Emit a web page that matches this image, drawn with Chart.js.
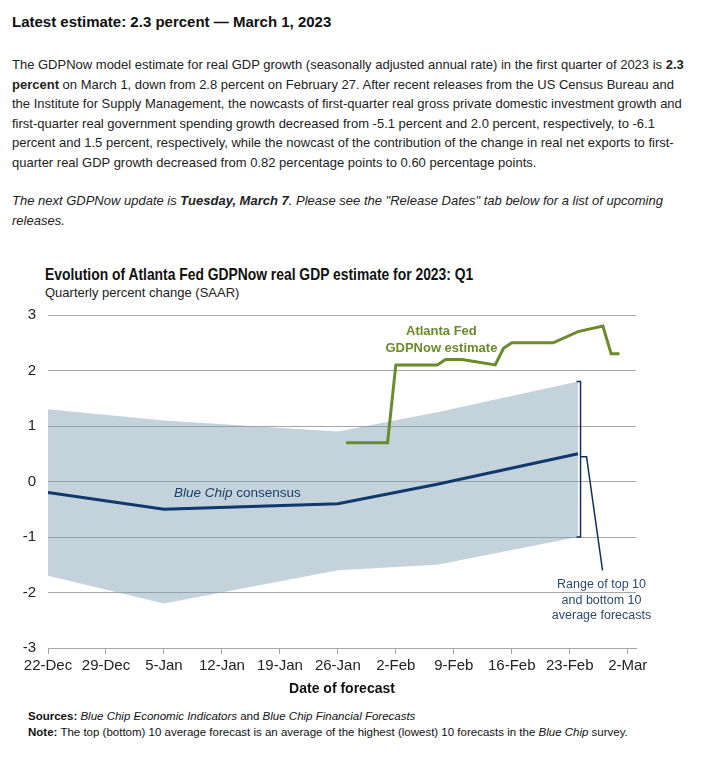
<!DOCTYPE html>
<html>
<head>
    <title>GDPNow</title>
    <style>
        body {
            margin: 0;
            background: #ffffff;
            font-family: 'Liberation Sans', Arial, sans-serif;
            color: #222;
            width: 710px;
            height: 757px;
            position: relative;
            overflow: hidden;
        }
        .abs { position: absolute; white-space: nowrap; }
        #headline {
            left: 12px; top: 13px;
            font-size: 15px; font-weight: bold; color: #111;
        }
        #para {
            left: 12px; top: 55px;
            font-size: 13px; line-height: 19.5px;
        }
        #next {
            left: 12px; top: 191px;
            font-size: 13px; line-height: 19.5px; font-style: italic;
        }
        #chart-title {
            left: 45px; top: 265px;
            font-size: 16.5px; font-weight: bold; color: #111;
            transform: scaleX(0.84);
            transform-origin: left center;
        }
        #chart-sub {
            left: 45px; top: 285px;
            font-size: 13px; color: #222;
        }
        #chart-box {
            position: absolute; left: 0; top: 294px;
            width: 710px; height: 406px;
        }
        .foot {
            left: 28px; font-size: 11.5px; color: #111;
        }
    </style>
    <script src="https://cdn.jsdelivr.net/npm/chart.js"></script>
</head>
<body>
    <div id="headline" class="abs">Latest estimate: 2.3 percent — March 1, 2023</div>
    <div id="para" class="abs">The GDPNow model estimate for real GDP growth (seasonally adjusted annual rate) in the first quarter of 2023 is <b>2.3</b><br><b>percent</b> on March 1, down from 2.8 percent on February 27. After recent releases from the US Census Bureau and<br>the Institute for Supply Management, the nowcasts of first-quarter real gross private domestic investment growth and<br>first-quarter real government spending growth decreased from -5.1 percent and 2.0 percent, respectively, to -6.1<br>percent and 1.5 percent, respectively, while the nowcast of the contribution of the change in real net exports to first-<br>quarter real GDP growth decreased from 0.82 percentage points to 0.60 percentage points.</div>
    <div id="next" class="abs">The next GDPNow update is <b>Tuesday, March 7</b>. Please see the "Release Dates" tab below for a list of upcoming<br>releases.</div>
    <div id="chart-title" class="abs">Evolution of Atlanta Fed GDPNow real GDP estimate for 2023: Q1</div>
    <div id="chart-sub" class="abs">Quarterly percent change (SAAR)</div>
    <div id="chart-box"><canvas id="gdpChart"></canvas></div>
    <div class="abs foot" style="top:710px"><b>Sources:</b> <i>Blue Chip Economic Indicators</i> and <i>Blue Chip Financial Forecasts</i></div>
    <div class="abs foot" style="top:726px"><b>Note:</b> The top (bottom) 10 average forecast is an average of the highest (lowest) 10 forecasts in the <i>Blue Chip</i> survey.</div>

    <script>
        // days counted from 22-Dec-2022
        const tickDays = [0, 7, 14, 21, 28, 35, 42, 49, 56, 63, 70];
        const tickLabels = ['22-Dec', '29-Dec', '5-Jan', '12-Jan', '19-Jan', '26-Jan', '2-Feb', '9-Feb', '16-Feb', '23-Feb', '2-Mar'];

        const gdpNowDays = [36, 41, 42, 47, 48, 50, 54, 55, 56, 61, 64, 67, 68, 69];
        const gdpNowValues = [0.7, 0.7, 2.1, 2.1, 2.2, 2.2, 2.1, 2.4, 2.5, 2.5, 2.7, 2.8, 2.3, 2.3];

        const blueChipDays = [0, 14, 35, 47, 64];
        const blueChipConsensus = [-0.2, -0.5, -0.4, -0.05, 0.5];
        const blueChipTop10 = [1.3, 1.1, 0.9, 1.25, 1.8];
        const blueChipBottom10 = [-1.7, -2.2, -1.6, -1.5, -1.0];

        const GREEN = '#6b8a2a';
        const NAVY = '#0f3a6b';
        const GRID = '#a6a6a6';
        const FONT = "'Liberation Sans', Arial, sans-serif";

        function pts(days, vals) {
            return days.map((d, i) => ({ x: d, y: vals[i] }));
        }

        // bracket, leader line and the text labels inside the plot
        const annotations = {
            id: 'annotations',
            afterDatasetsDraw(chart) {
                const ctx = chart.ctx;
                const xs = chart.scales.x, ys = chart.scales.y;
                const last = blueChipDays.length - 1;
                const bx = xs.getPixelForValue(blueChipDays[last]) + 2.5;
                const top = ys.getPixelForValue(blueChipTop10[last]);
                const bot = ys.getPixelForValue(blueChipBottom10[last]);
                const mid = ys.getPixelForValue(blueChipConsensus[last]) + 3;

                ctx.save();
                ctx.strokeStyle = '#0f2f5a';
                ctx.lineWidth = 1.5;
                ctx.beginPath();
                ctx.moveTo(bx - 4, top);
                ctx.lineTo(bx, top);
                ctx.lineTo(bx, bot);
                ctx.lineTo(bx - 4, bot);
                ctx.moveTo(bx, mid);
                ctx.lineTo(bx + 6, mid);
                ctx.lineTo(bx + 22, ys.getPixelForValue(-1.6));
                ctx.stroke();

                ctx.textAlign = 'center';
                ctx.textBaseline = 'middle';
                ctx.fillStyle = '#2b4a6e';
                ctx.font = '12.5px ' + FONT;
                const tx = bx + 21;
                const ty = ys.getPixelForValue(-1.86);
                ctx.fillText('Range of top 10', tx, ty);
                ctx.fillText('and bottom 10', tx, ty + 15.5);
                ctx.fillText('average forecasts', tx, ty + 31);

                ctx.fillStyle = GREEN;
                ctx.font = 'bold 13px ' + FONT;
                const gx = xs.getPixelForValue(47.5);
                const gy = ys.getPixelForValue(2.7);
                ctx.fillText('Atlanta Fed', gx, gy);
                ctx.fillText('GDPNow estimate', gx, gy + 17);

                ctx.fillStyle = '#1d3f6a';
                ctx.textAlign = 'left';
                const lx = xs.getPixelForValue(15.2);
                const ly = ys.getPixelForValue(-0.21);
                ctx.font = 'italic 13.5px ' + FONT;
                ctx.fillText('Blue Chip', lx, ly);
                const w = ctx.measureText('Blue Chip ').width;
                ctx.font = '13.5px ' + FONT;
                ctx.fillText('consensus', lx + w, ly);
                ctx.restore();
            }
        };

        new Chart(document.getElementById('gdpChart'), {
            type: 'line',
            data: {
                datasets: [{
                    label: 'Atlanta Fed GDPNow estimate',
                    data: pts(gdpNowDays, gdpNowValues),
                    borderColor: GREEN,
                    borderWidth: 3,
                    pointRadius: 0,
                    fill: false,
                    order: 0
                }, {
                    label: 'Blue Chip consensus',
                    data: pts(blueChipDays, blueChipConsensus),
                    borderColor: NAVY,
                    borderWidth: 3,
                    pointRadius: 0,
                    fill: false,
                    order: 1
                }, {
                    label: 'Top 10 average',
                    data: pts(blueChipDays, blueChipTop10),
                    borderWidth: 0,
                    borderColor: 'rgba(0,0,0,0)',
                    backgroundColor: 'rgba(130, 160, 178, 0.47)',
                    pointRadius: 0,
                    fill: '+1',
                    order: 2
                }, {
                    label: 'Bottom 10 average',
                    data: pts(blueChipDays, blueChipBottom10),
                    borderWidth: 0,
                    borderColor: 'rgba(0,0,0,0)',
                    pointRadius: 0,
                    fill: false,
                    order: 3
                }]
            },
            options: {
                responsive: true,
                maintainAspectRatio: false,
                animation: false,
                layout: { padding: { top: 9, right: 74, bottom: 0, left: 0 } },
                plugins: {
                    legend: { display: false },
                    tooltip: { enabled: false }
                },
                scales: {
                    x: {
                        type: 'linear',
                        min: 0,
                        max: 71,
                        afterBuildTicks: (scale) => {
                            scale.ticks = tickDays.map(d => ({ value: d }));
                        },
                        afterFit: (scale) => { scale.height = 52; },
                        ticks: {
                            autoSkip: false,
                            maxRotation: 0,
                            padding: 3,
                            color: '#222',
                            font: { family: FONT, size: 15 },
                            callback: (v) => tickLabels[tickDays.indexOf(v)]
                        },
                        grid: {
                            drawOnChartArea: false,
                            color: GRID,
                            tickLength: 6
                        },
                        border: { display: true, color: GRID, width: 1 },
                        title: {
                            display: true,
                            text: 'Date of forecast',
                            color: '#111',
                            font: { family: FONT, size: 14, weight: 'bold' },
                            padding: { top: 0, bottom: 2 }
                        }
                    },
                    y: {
                        min: -3,
                        max: 3,
                        afterFit: (scale) => { scale.width = 48; },
                        ticks: {
                            stepSize: 1,
                            padding: 12,
                            color: '#222',
                            font: { family: FONT, size: 15 }
                        },
                        grid: {
                            color: GRID,
                            lineWidth: 1,
                            drawTicks: false
                        },
                        border: { display: false }
                    }
                }
            },
            plugins: [annotations]
        });
    </script>
</body>
</html>
